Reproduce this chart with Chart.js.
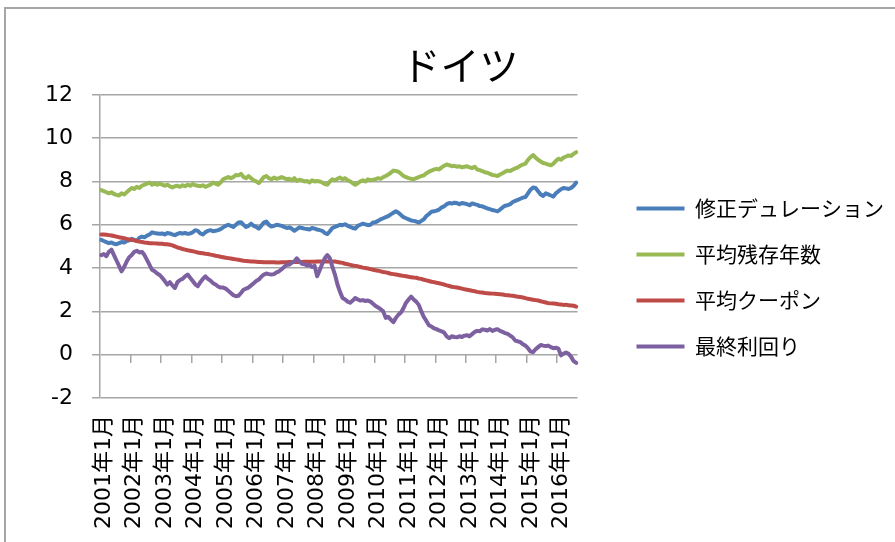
<!DOCTYPE html>
<html>
<head>
<meta charset="utf-8">
<script src="https://cdn.jsdelivr.net/npm/chart.js@4/dist/chart.umd.min.js"></script>
<style>
  html, body { margin: 0; padding: 0; background: #fff; overflow: hidden; }
  #frame { position: absolute; left: 4px; top: 7px; width: 940px; height: 580px;
           border-left: 2px solid #a6a6a6; border-top: 2px solid #a6a6a6; }
  #c { position: absolute; left: 6px; top: 9px; }
</style>
</head>
<body>
<div id="frame"></div>
<canvas id="c" width="902" height="537"></canvas>
<script>
// ---- Data (monthly, 2001年1月 .. 2016年8月) ----
const startYear = 2001;
const monthCount = 188;
const categories = [];
for (let i = 0; i < monthCount; i++) {
  const y = startYear + Math.floor(i / 12);
  const m = (i % 12) + 1;
  categories.push(y + '年' + m + '月');
}

const seriesNames = ['修正デュレーション', '平均残存年数', '平均クーポン', '最終利回り'];

const durationVals = [
  5.30, 5.25, 5.20, 5.15, 5.18, 5.12, 5.10, 5.15, 5.20, 5.18, 5.25, 5.28,
  5.35, 5.30, 5.25, 5.40, 5.45, 5.42, 5.50, 5.55, 5.65, 5.62, 5.60, 5.58,
  5.60, 5.55, 5.62, 5.60, 5.55, 5.52, 5.58, 5.62, 5.60, 5.62, 5.58, 5.60,
  5.65, 5.75, 5.72, 5.60, 5.55, 5.65, 5.72, 5.75, 5.70, 5.72, 5.75, 5.80,
  5.88, 5.95, 6.00, 5.95, 5.90, 6.00, 6.10, 6.12, 6.00, 5.90, 5.95, 6.05,
  5.95, 5.90, 5.82, 5.95, 6.10, 6.15, 6.00, 5.92, 5.95, 6.00, 5.98, 5.95,
  5.90, 5.85, 5.88, 5.82, 5.72, 5.80, 5.88, 5.85, 5.82, 5.80, 5.78, 5.85,
  5.82, 5.78, 5.75, 5.72, 5.62, 5.57, 5.70, 5.85, 5.90, 5.95, 6.00, 5.98,
  6.02, 5.95, 5.90, 5.85, 5.82, 5.95, 6.00, 6.05, 6.02, 5.98, 6.00, 6.10,
  6.12, 6.18, 6.25, 6.30, 6.35, 6.40, 6.48, 6.55, 6.62, 6.55, 6.45, 6.35,
  6.30, 6.25, 6.20, 6.18, 6.15, 6.10, 6.18, 6.25, 6.40, 6.50, 6.60, 6.62,
  6.65, 6.70, 6.80, 6.85, 6.95, 7.00, 6.98, 7.02, 7.00, 6.95, 7.00, 6.98,
  6.95, 6.90, 6.98, 6.95, 6.92, 6.86, 6.85, 6.80, 6.75, 6.72, 6.68, 6.65,
  6.62, 6.70, 6.80, 6.88, 6.90, 6.95, 7.05, 7.10, 7.15, 7.20, 7.25, 7.28,
  7.45, 7.62, 7.72, 7.70, 7.55, 7.40, 7.33, 7.45, 7.40, 7.35, 7.30, 7.45,
  7.55, 7.64, 7.70, 7.68, 7.65, 7.70, 7.80, 7.95
];

const maturityVals = [
  7.60, 7.55, 7.50, 7.45, 7.50, 7.42, 7.38, 7.35, 7.45, 7.40, 7.50, 7.60,
  7.70, 7.65, 7.75, 7.70, 7.80, 7.85, 7.90, 7.95, 7.85, 7.90, 7.85, 7.90,
  7.85, 7.80, 7.85, 7.78, 7.72, 7.78, 7.80, 7.75, 7.82, 7.78, 7.85, 7.80,
  7.88, 7.82, 7.80, 7.78, 7.82, 7.75, 7.80, 7.85, 7.95, 7.90, 7.85, 7.95,
  8.10, 8.15, 8.20, 8.15, 8.20, 8.30, 8.28, 8.35, 8.20, 8.15, 8.25, 8.15,
  8.05, 8.00, 7.92, 8.05, 8.20, 8.25, 8.15, 8.10, 8.18, 8.12, 8.15, 8.20,
  8.15, 8.10, 8.12, 8.05, 8.15, 8.02, 8.08, 8.05, 8.00, 8.02, 7.95, 8.05,
  8.00, 8.02, 8.00, 7.95, 7.88, 7.85, 8.00, 8.10, 8.05, 8.12, 8.18, 8.10,
  8.15, 8.05, 8.00, 7.92, 7.85, 7.92, 8.00, 8.05, 8.00, 8.10, 8.05, 8.08,
  8.10, 8.15, 8.12, 8.20, 8.25, 8.32, 8.40, 8.50, 8.48, 8.45, 8.35, 8.25,
  8.20, 8.15, 8.12, 8.10, 8.15, 8.20, 8.25, 8.28, 8.38, 8.45, 8.50, 8.55,
  8.58, 8.55, 8.65, 8.72, 8.78, 8.75, 8.70, 8.72, 8.68, 8.70, 8.65, 8.68,
  8.70, 8.65, 8.62, 8.68, 8.55, 8.52, 8.48, 8.42, 8.40, 8.35, 8.30, 8.28,
  8.25, 8.32, 8.38, 8.45, 8.50, 8.48, 8.55, 8.60, 8.65, 8.72, 8.78, 8.82,
  9.00, 9.12, 9.22, 9.10, 9.00, 8.92, 8.85, 8.82, 8.78, 8.75, 8.82, 8.95,
  9.05, 9.00, 9.10, 9.15, 9.20, 9.18, 9.28, 9.35
];

const couponVals = [
  5.55, 5.55, 5.54, 5.52, 5.50, 5.48, 5.45, 5.42, 5.40, 5.38, 5.35, 5.32,
  5.30, 5.28, 5.25, 5.22, 5.20, 5.18, 5.17, 5.15, 5.15, 5.14, 5.13, 5.12,
  5.12, 5.10, 5.10, 5.08, 5.05, 5.00, 4.95, 4.92, 4.88, 4.85, 4.82, 4.80,
  4.78, 4.75, 4.72, 4.70, 4.68, 4.66, 4.65, 4.62, 4.60, 4.57, 4.55, 4.52,
  4.50, 4.48, 4.46, 4.44, 4.42, 4.40, 4.38, 4.36, 4.34, 4.33, 4.32, 4.30,
  4.30, 4.29, 4.28, 4.28, 4.27, 4.27, 4.27, 4.27, 4.27, 4.26, 4.26, 4.27,
  4.27, 4.27, 4.28, 4.28, 4.28, 4.28, 4.28, 4.28, 4.29, 4.29, 4.29, 4.29,
  4.29, 4.30, 4.30, 4.30, 4.30, 4.30, 4.30, 4.30, 4.30, 4.28, 4.26, 4.24,
  4.20, 4.18, 4.15, 4.12, 4.10, 4.08, 4.05, 4.02, 4.00, 3.98, 3.95, 3.92,
  3.90, 3.88, 3.85, 3.82, 3.80, 3.77, 3.74, 3.72, 3.70, 3.68, 3.66, 3.64,
  3.62, 3.60, 3.58, 3.56, 3.55, 3.52, 3.50, 3.46, 3.43, 3.40, 3.37, 3.35,
  3.32, 3.30, 3.27, 3.24, 3.20, 3.17, 3.14, 3.12, 3.10, 3.08, 3.05, 3.02,
  3.00, 2.98, 2.95, 2.93, 2.90, 2.88, 2.87, 2.85, 2.84, 2.83, 2.82, 2.81,
  2.80, 2.79, 2.78, 2.76, 2.75, 2.73, 2.72, 2.70, 2.68, 2.66, 2.64, 2.61,
  2.58, 2.56, 2.54, 2.52, 2.50, 2.47, 2.44, 2.41, 2.38, 2.37, 2.36, 2.35,
  2.33, 2.32, 2.30, 2.31, 2.28, 2.27, 2.26, 2.22
];

const yieldVals = [
  4.60, 4.65, 4.55, 4.75, 4.85, 4.60, 4.35, 4.10, 3.85, 4.05, 4.30, 4.50,
  4.60, 4.75, 4.80, 4.72, 4.75, 4.60, 4.38, 4.15, 3.92, 3.85, 3.75, 3.68,
  3.55, 3.40, 3.24, 3.35, 3.20, 3.08, 3.35, 3.45, 3.50, 3.62, 3.70, 3.55,
  3.40, 3.25, 3.16, 3.35, 3.50, 3.62, 3.50, 3.42, 3.30, 3.24, 3.15, 3.10,
  3.10, 3.05, 2.95, 2.85, 2.75, 2.70, 2.72, 2.85, 3.00, 3.05, 3.10, 3.20,
  3.30, 3.40, 3.47, 3.60, 3.70, 3.75, 3.72, 3.70, 3.72, 3.80, 3.85, 3.95,
  4.05, 4.15, 4.15, 4.25, 4.30, 4.45, 4.30, 4.20, 4.18, 4.12, 4.15, 4.05,
  4.10, 3.62, 3.90, 4.20, 4.45, 4.60, 4.45, 4.05, 3.70, 3.24, 2.90, 2.62,
  2.55, 2.45, 2.40, 2.50, 2.62, 2.55, 2.50, 2.52, 2.48, 2.50, 2.45, 2.35,
  2.25, 2.18, 2.10, 2.00, 1.70, 1.75, 1.62, 1.50, 1.70, 1.85, 1.95, 2.15,
  2.40, 2.55, 2.68, 2.55, 2.45, 2.30, 2.00, 1.74, 1.56, 1.36, 1.30, 1.22,
  1.18, 1.12, 1.08, 1.02, 0.85, 0.76, 0.85, 0.82, 0.80, 0.85, 0.82, 0.88,
  0.90, 0.85, 0.95, 1.05, 1.10, 1.08, 1.17, 1.15, 1.12, 1.18, 1.10, 1.15,
  1.18, 1.10, 1.05, 1.00, 0.96, 0.88, 0.80, 0.65, 0.62, 0.58, 0.48, 0.42,
  0.30, 0.15, 0.12, 0.25, 0.35, 0.45, 0.42, 0.40, 0.42, 0.35, 0.30, 0.32,
  0.28, -0.03, 0.05, 0.10, 0.04, -0.10, -0.30, -0.38
];

const yTickMin = -2, yTickMax = 12, yTickStep = 2;
const titleText = 'ドイツ';

// ---- Styles ----
const colors = ['#4A7EBB', '#98B954', '#BE4B48', '#7D60A0'];
const gridGray = '#a6a6a6';
const numFont = "'DejaVu Sans', 'Noto Sans CJK JP', sans-serif";
const jpFont = "'Noto Sans CJK JP', sans-serif";

const valueSets = [durationVals, maturityVals, couponVals, yieldVals];
const datasets = seriesNames.map((name, k) => ({
  label: name,
  data: valueSets[k],
  borderColor: colors[k],
  backgroundColor: colors[k],
  borderWidth: 4,
  pointRadius: 0,
  pointHoverRadius: 0,
  tension: 0,
  borderJoinStyle: 'round',
  borderCapStyle: 'round',
  fill: false,
  order: 4 - k,
  xAxisID: 'x',
  yAxisID: 'y'
}));

new Chart(document.getElementById('c'), {
  type: 'line',
  data: { labels: categories, datasets },
  options: {
    responsive: false,
    animation: false,
    devicePixelRatio: 1,
    events: [],
    layout: { padding: { left: 20, right: 14, top: 0, bottom: 0 } },
    plugins: {
      title: {
        display: true,
        text: titleText,
        color: '#000',
        font: { family: jpFont, size: 39, weight: 'normal', lineHeight: 1.2 },
        padding: { top: 33, bottom: 6 }
      },
      legend: {
        position: 'right',
        align: 'center',
        maxWidth: 400,
        labels: {
          color: '#000',
          font: { family: jpFont, size: 21 },
          boxWidth: 48,
          boxHeight: 4,
          padding: 25,
          sort: (a, b) => a.datasetIndex - b.datasetIndex,
          generateLabels: (chart) => Chart.defaults.plugins.legend.labels.generateLabels(chart)
            .map(l => Object.assign(l, { lineWidth: 0 }))
        }
      },
      tooltip: { enabled: false }
    },
    scales: {
      x: {
        type: 'category',
        position: 'bottom',
        offset: true,
        grid: { display: false, drawTicks: false },
        border: { display: false },
        ticks: {
          autoSkip: false,
          minRotation: 90,
          maxRotation: 90,
          padding: 17,
          labelOffset: 3,
          color: '#000',
          font: { family: numFont, size: 22 },
          callback: function (value, index) {
            return index % 12 === 0 ? this.getLabelForValue(value) : '';
          }
        }
      },
      xt: {
        type: 'category',
        position: { y: 0 },
        offset: true,
        grid: {
          display: true,
          offset: true,
          drawOnChartArea: false,
          drawTicks: true,
          tickLength: 8,
          lineWidth: 1.5,
          color: (ctx) => (ctx.index > 0 && ctx.index % 12 === 0) ? gridGray : 'rgba(0,0,0,0)'
        },
        border: { display: false },
        ticks: { display: false, autoSkip: false }
      },
      y: {
        type: 'linear',
        position: 'left',
        min: yTickMin,
        max: yTickMax,
        grid: { color: gridGray, lineWidth: 1.5, tickLength: 8, drawTicks: true },
        border: { display: true, color: gridGray, width: 1.5 },
        ticks: {
          stepSize: yTickStep,
          padding: 19,
          color: '#000',
          font: { family: numFont, size: 22 }
        }
      },
      y2: {
        type: 'linear',
        position: 'right',
        display: true,
        grid: { display: false, drawTicks: false },
        border: { display: false },
        ticks: { display: false },
        afterFit: (scale) => { scale.width = 34; }
      }
    }
  }
});
</script>
</body>
</html>
